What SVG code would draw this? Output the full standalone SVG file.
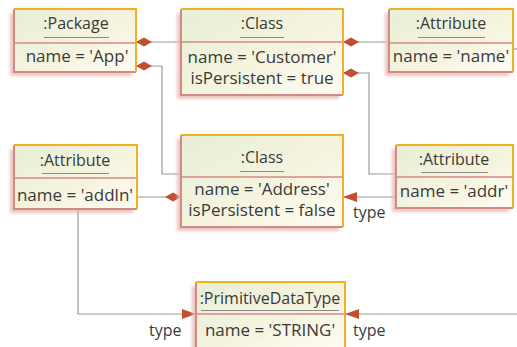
<svg xmlns="http://www.w3.org/2000/svg" width="517" height="347" viewBox="0 0 517 347">
<defs>
<linearGradient id="g" x1="0" y1="0" x2="1" y2="1">
<stop offset="0" stop-color="#e7efd6"/>
<stop offset="0.6" stop-color="#f6f4e0"/>
<stop offset="1" stop-color="#fffdf4"/>
</linearGradient>
<filter id="sh" x="-20%" y="-20%" width="140%" height="140%"><feGaussianBlur stdDeviation="1.5"/></filter>
<marker id="dia" viewBox="0 0 16 10" refX="0" refY="5" markerWidth="16" markerHeight="10" markerUnits="userSpaceOnUse" orient="auto"><path d="M0,5 L8,0.5 L16,5 L8,9.5 Z" fill="#c0502f"/></marker>
<marker id="arr" viewBox="0 0 14 10" refX="14" refY="5" markerWidth="14" markerHeight="10" markerUnits="userSpaceOnUse" orient="auto"><path d="M0,0 L14,5 L0,10 Z" fill="#c0502f"/></marker>
</defs>
<style>
.shadow{fill:#e6b8b4;filter:url(#sh);opacity:0.8}
.body{fill:url(#g)}
.tr{fill:none;stroke:#f5b020;stroke-width:2}
.bl{fill:none;stroke:#d48a84;stroke-width:2}
.div{stroke:#d48a84;stroke-width:1.5}
.ul{stroke:#8a8a8a;stroke-width:1}
text{font-family:"Open Sans","Noto Sans",sans-serif;font-size:17px;fill:#3a3a3a;text-anchor:middle}
.hd{font-size:16px}
.lbl{text-anchor:start;font-size:16px}
.con{fill:none;stroke:#9a9a9a;stroke-width:1.2}
</style>
<g id="connectors">
<path class="con" d="M136,42 H181" marker-start="url(#dia)"/>
<path class="con" d="M343,42 H389" marker-start="url(#dia)"/>
<path class="con" d="M136,66 H162 V174 H181" marker-start="url(#dia)"/>
<path class="con" d="M343,73 H369 V174 H396" marker-start="url(#dia)"/>
<path class="con" d="M396,197 H343" marker-end="url(#arr)"/>
<path class="con" d="M181,197 H137" marker-start="url(#dia)"/>
<path class="con" d="M78,209 V314 H196" marker-end="url(#arr)"/>
<path class="con" d="M517,314 H345" marker-end="url(#arr)"/>
<path class="con" d="M513,49 H517"/>
<text class="lbl" x="353" y="218">type</text>
<text class="lbl" x="149" y="336">type</text>
<text class="lbl" x="353" y="336">type</text>
</g>
<g id="package">
<rect class="shadow" x="10" y="13" width="122" height="63"/>
<rect class="body" x="14" y="9" width="122" height="63"/>
<path class="bl" d="M14,9 V72 H136"/><path class="tr" d="M14,9 H136 V72"/>
<line class="div" x1="14" y1="43" x2="136" y2="43"/>
<text class="hd" x="76" y="29">:Package</text>
<line class="ul" x1="44" y1="37.5" x2="109" y2="37.5"/>
<text x="77" y="62">name = 'App'</text>
</g>
<g id="classCustomer">
<rect class="shadow" x="177" y="13" width="162" height="86"/>
<rect class="body" x="181" y="9" width="162" height="86"/>
<path class="bl" d="M181,9 V95 H343"/><path class="tr" d="M181,9 H343 V95"/>
<line class="div" x1="181" y1="42" x2="343" y2="42"/>
<text class="hd" x="262" y="29">:Class</text>
<line class="ul" x1="240" y1="37.5" x2="284" y2="37.5"/>
<text x="262" y="63">name = 'Customer'</text>
<text x="262" y="84">isPersistent = true</text>
</g>
<g id="attrName">
<rect class="shadow" x="385" y="13" width="124" height="63"/>
<rect class="body" x="389" y="9" width="124" height="63"/>
<path class="bl" d="M389,9 V72 H513"/><path class="tr" d="M389,9 H513 V72"/>
<line class="div" x1="389" y1="43" x2="513" y2="43"/>
<text class="hd" x="451" y="29">:Attribute</text>
<line class="ul" x1="418" y1="37.5" x2="485" y2="37.5"/>
<text x="451" y="62">name = 'name'</text>
</g>
<g id="attrAddln">
<rect class="shadow" x="10" y="149" width="123" height="64"/>
<rect class="body" x="14" y="145" width="123" height="64"/>
<path class="bl" d="M14,145 V209 H137"/><path class="tr" d="M14,145 H137 V209"/>
<line class="div" x1="14" y1="178" x2="137" y2="178"/>
<text class="hd" x="75" y="166">:Attribute</text>
<line class="ul" x1="42" y1="173.5" x2="109" y2="173.5"/>
<text x="75" y="201">name = 'addln'</text>
</g>
<g id="classAddress">
<rect class="shadow" x="177" y="139" width="162" height="92"/>
<rect class="body" x="181" y="135" width="162" height="92"/>
<path class="bl" d="M181,135 V227 H343"/><path class="tr" d="M181,135 H343 V227"/>
<line class="div" x1="181" y1="177" x2="343" y2="177"/>
<text class="hd" x="262" y="163">:Class</text>
<line class="ul" x1="240" y1="171.5" x2="284" y2="171.5"/>
<text x="262" y="195">name = 'Address'</text>
<text x="262" y="216">isPersistent = false</text>
</g>
<g id="attrAddr">
<rect class="shadow" x="392" y="149" width="117" height="63"/>
<rect class="body" x="396" y="145" width="117" height="63"/>
<path class="bl" d="M396,145 V208 H513"/><path class="tr" d="M396,145 H513 V208"/>
<line class="div" x1="396" y1="177" x2="513" y2="177"/>
<text class="hd" x="454" y="165">:Attribute</text>
<line class="ul" x1="421" y1="172.5" x2="488" y2="172.5"/>
<text x="454" y="197">name = 'addr'</text>
</g>
<g id="primitive">
<rect class="shadow" x="192" y="286" width="149" height="66"/>
<rect class="body" x="196" y="282" width="149" height="66"/>
<path class="bl" d="M196,282 V348 H345"/><path class="tr" d="M196,282 H345 V348"/>
<line class="div" x1="196" y1="314" x2="345" y2="314"/>
<text class="hd" x="270" y="304">:PrimitiveDataType</text>
<line class="ul" x1="201" y1="310.5" x2="339" y2="310.5"/>
<text x="270" y="336">name = 'STRING'</text>
</g>
</svg>
